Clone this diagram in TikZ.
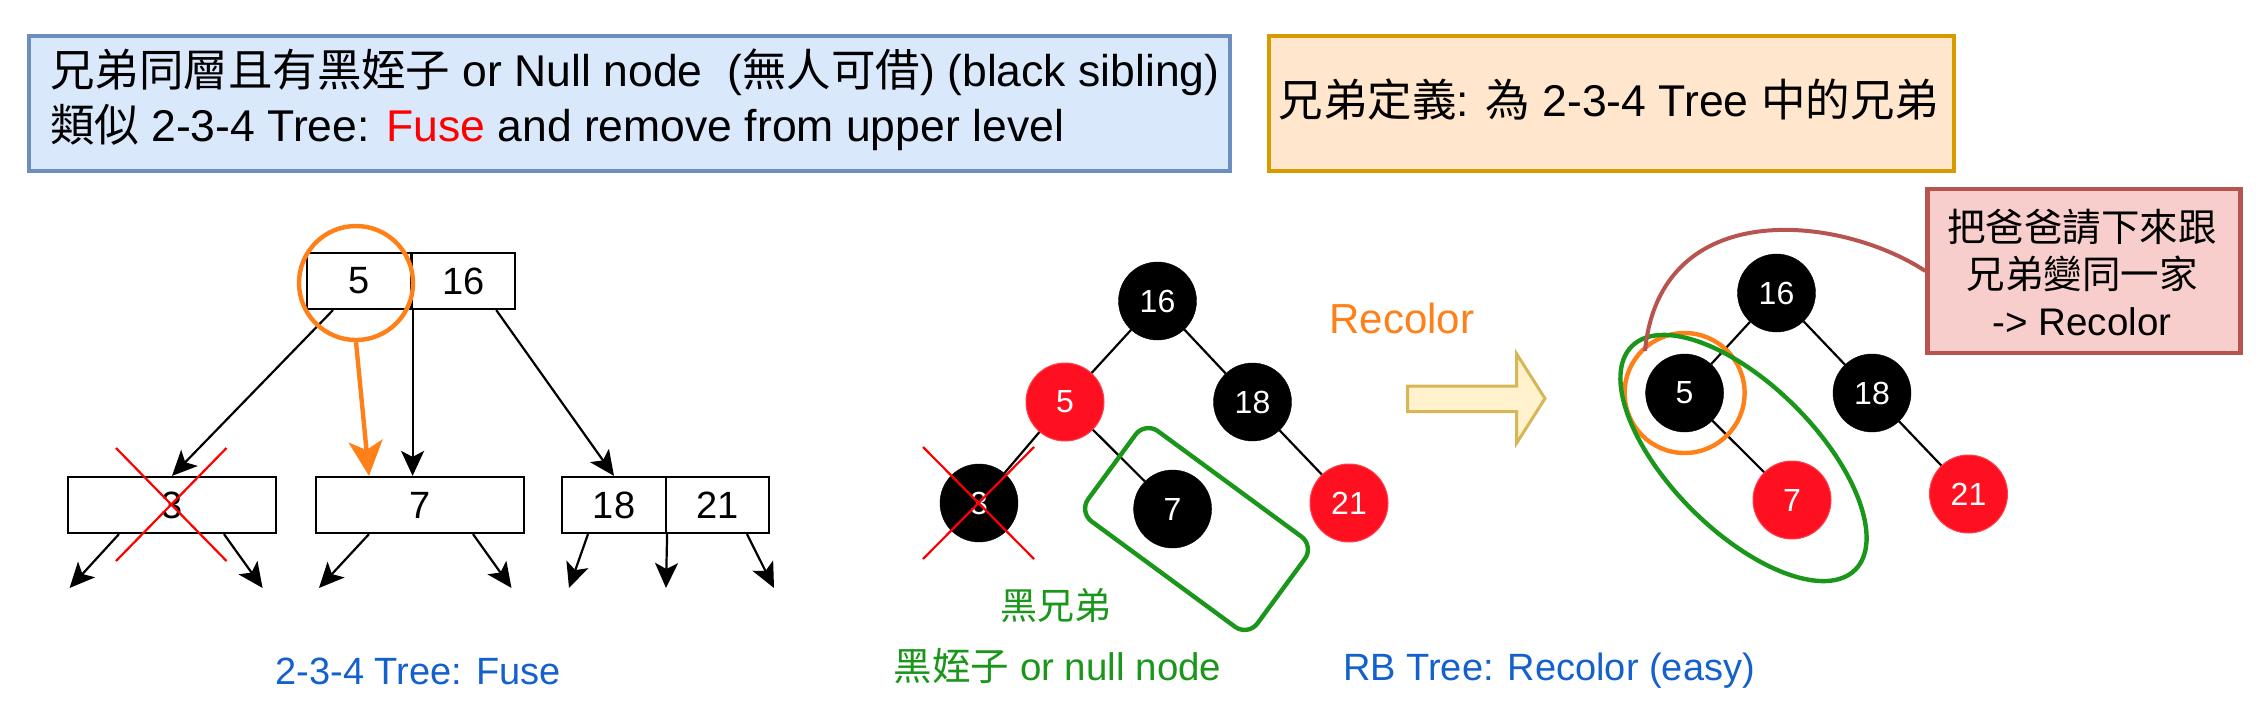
\documentclass[tikz,border=0pt]{standalone}
\usepackage{fontspec}
\setmainfont{Liberation Sans}
\newfontfamily\cjk{Noto Sans CJK TC}
\newcommand{\C}[1]{{\cjk #1}}
\newcommand{\setfs}[1]{\fontsize{#1pt}{#1pt}\selectfont}
\usetikzlibrary{arrows.meta,shapes.geometric}
\definecolor{bluefill}{HTML}{DAE8FC}
\definecolor{bluestroke}{HTML}{6C8EBF}
\definecolor{orfill}{HTML}{FFE6CC}
\definecolor{orstroke}{HTML}{D79B00}
\definecolor{pkfill}{HTML}{F8CECC}
\definecolor{pkstroke}{HTML}{B85450}
\definecolor{ylfill}{HTML}{FFF2CC}
\definecolor{ylstroke}{HTML}{D6B656}
\definecolor{myorange}{HTML}{FF8019}
\definecolor{myred}{HTML}{FF0000}
\definecolor{nodered}{HTML}{FF1020}
\definecolor{mygreen}{HTML}{1A961A}
\definecolor{myblue}{HTML}{1460CC}
\begin{document}
\begin{tikzpicture}[x=1pt,y=-1pt,
  notebox/.style={line width=4.4pt, inner sep=0pt},
  plaintext/.style={inner sep=0pt, outer sep=0pt},
  keybox/.style={draw, line width=2.2pt, minimum height=56pt, inner sep=0pt, font=\setfs{38}},
  blk/.style={circle, fill=black, draw=black, minimum size=78pt, inner sep=0pt, text=white, font=\setfs{32}},
  rdn/.style={circle, fill=nodered, draw=nodered!80!white, line width=1pt, minimum size=78pt, inner sep=0pt, text=white, font=\setfs{32}},
  edge/.style={line width=2.2pt},
  arr/.style={line width=2.2pt, -{Stealth[length=25pt,width=23pt,inset=6pt]}},
  bigarr/.style={myorange, line width=4.4pt, -{Stealth[length=35pt,width=34pt,inset=9pt]}},
  cross/.style={myred, line width=2.2pt},
  ring/.style={circle, draw=myorange, line width=4.4pt, inner sep=0pt},
  caption/.style={plaintext, text=myblue, font=\setfs{38}}
]
\useasboundingbox (0,0) rectangle (2260,720);

% ---------- top notes ----------
\node[notebox, draw=bluestroke, fill=bluefill, minimum width=1201pt, minimum height=135pt] (bluebox) at (629.5,103.5) {};
\node[plaintext, anchor=west, font=\setfs{44.5}] (l1) at (50,72) {\C{兄弟同層且有黑姪子} or Null node\ \ (\C{無人可借}) (black sibling)};
\node[plaintext, anchor=west, font=\setfs{44.5}] (l2) at (50,127.5) {\C{類似} 2-3-4 Tree: \textcolor{myred}{Fuse} and remove from upper level};

\node[notebox, draw=orstroke, fill=orfill, minimum width=685pt, minimum height=135pt] (orbox) at (1611.5,103.5) {};
\node[plaintext, font=\setfs{44.5}] (ortext) at (1609,100) {\C{兄弟定義}: \C{為} 2-3-4 Tree \C{中的兄弟}};

% ---------- 2-3-4 tree ----------
\node[keybox, minimum width=104.5pt] (t5) at (359.25,281) {5};
\node[keybox, minimum width=103.5pt] (t16) at (463.25,281) {16};
\node[keybox, minimum width=208pt] (lb) at (172,505) {3};
\node[keybox, minimum width=208pt] (mb) at (420,505) {7};
\node[keybox, minimum width=104pt] (r18) at (614,505) {18};
\node[keybox, minimum width=103pt] (r21) at (717.5,505) {21};

\draw[arr] ([xshift=-26.25pt]t5.south) -- (lb.north);
\draw[arr] (t5.south east) -- (t5.south east |- mb.north);
\draw[arr] ([xshift=33pt]t16.south) -- (r18.north);

\coordinate (e1) at (69.6,588);
\coordinate (e2) at (262.6,588);
\coordinate (e3) at (319,588);
\coordinate (e4) at (511.5,588);
\coordinate (e5) at (569,588);
\coordinate (e6) at (666,588);
\coordinate (e7) at (774,588);
\draw[arr] ([xshift=-53pt]lb.south) -- (e1);
\draw[arr] ([xshift=52pt]lb.south) -- (e2);
\draw[arr] ([xshift=-51pt]mb.south) -- (e3);
\draw[arr] ([xshift=53pt]mb.south) -- (e4);
\draw[arr] ([xshift=-26pt]r18.south) -- (e5);
\draw[arr] (r18.south east) -- (e6);
\draw[arr] ([xshift=29.5pt]r21.south) -- (e7);

\draw[cross] ([shift={(-56,-57)}]lb.center) -- ([shift={(54.5,56)}]lb.center);
\draw[cross] ([shift={(54.5,-57)}]lb.center) -- ([shift={(-56,56)}]lb.center);

\node[ring, minimum size=114pt] (oc) at (356,283) {};
\draw[bigarr] (oc.south) -- ([xshift=-51pt]mb.north);

\node[caption] (cap1) at (418,671) {2-3-4 Tree: Fuse};

% ---------- RB tree (before) ----------
\node[blk] (a16) at (1157.5,301) {16};
\node[rdn] (a5) at (1065,402) {5};
\node[blk] (a18) at (1252.5,402) {18};
\node[blk] (a3) at (979,503) {3};
\node[blk] (a7) at (1172.6,509) {7};
\node[rdn] (a21) at (1349,503) {21};
\draw[edge] (a16) -- (a5);
\draw[edge] (a16) -- (a18);
\draw[edge] (a5) -- (a3);
\draw[edge] (a5) -- (a7);
\draw[edge] (a18) -- (a21);

\draw[cross] ([shift={(-56,-56)}]a3.center) -- ([shift={(55,56)}]a3.center);
\draw[cross] ([shift={(55,-56)}]a3.center) -- ([shift={(-56,56)}]a3.center);

\node[draw=mygreen, line width=4.4pt, rounded corners=16pt, minimum width=210pt, minimum height=112pt, rotate=-36.3] (grect) at (1196.5,529) {};

\node[plaintext, text=mygreen, font=\setfs{37}] (g1) at (1056,605) {\C{黑兄弟}};
\node[plaintext, text=mygreen, font=\setfs{38.5}] (g2) at (1057.6,666) {\C{黑姪子} or null node};

% ---------- Recolor arrow ----------
\node[plaintext, text=myorange, font=\setfs{42}] (rec) at (1401.7,318) {Recolor};
\draw[fill=ylfill, draw=ylstroke, line width=3pt, line join=miter]
  (1407.7,386) -- (1516.7,386) -- (1516.7,354) -- (1545,398.5) -- (1516.7,443) -- (1516.7,411.7) -- (1407.7,411.7) -- cycle;

% ---------- RB tree (after) ----------
\node[blk] (b16) at (1776.5,293) {16};
\node[blk] (b5) at (1684.6,393) {5};
\node[blk] (b18) at (1872,393) {18};
\node[rdn] (b7) at (1792,500) {7};
\node[rdn] (b21) at (1968.5,494) {21};
\draw[edge] (b16) -- (b5);
\draw[edge] (b16) -- (b18);
\draw[edge] (b5) -- (b7);
\draw[edge] (b18) -- (b21);

\node[ring, minimum size=120pt] (oc2) at (1684.6,393) {};
\node[ellipse, draw=mygreen, line width=4.4pt, inner sep=0pt, minimum width=316pt, minimum height=146pt, rotate=-45] (gell) at (1743.5,458) {};

\node[notebox, draw=pkstroke, fill=pkfill, minimum width=313pt, minimum height=164pt] (pk) at (2084,271) {};
\node[plaintext, font=\setfs{38.5}] (pk1) at (2082,227) {\C{把爸爸請下來跟}};
\node[plaintext, font=\setfs{38.5}] (pk2) at (2082,274) {\C{兄弟變同一家}};
\node[plaintext, font=\setfs{38.5}] (pk3) at (2082,322) {-> Recolor};
\coordinate (cend) at (1645,351);
\draw[pkstroke, line width=4pt] (pk.west) .. controls (1840,215) and (1660,195) .. (cend);

\node[caption] (cap2) at (1549,671) {RB Tree: Recolor (easy)};
\end{tikzpicture}
\end{document}
